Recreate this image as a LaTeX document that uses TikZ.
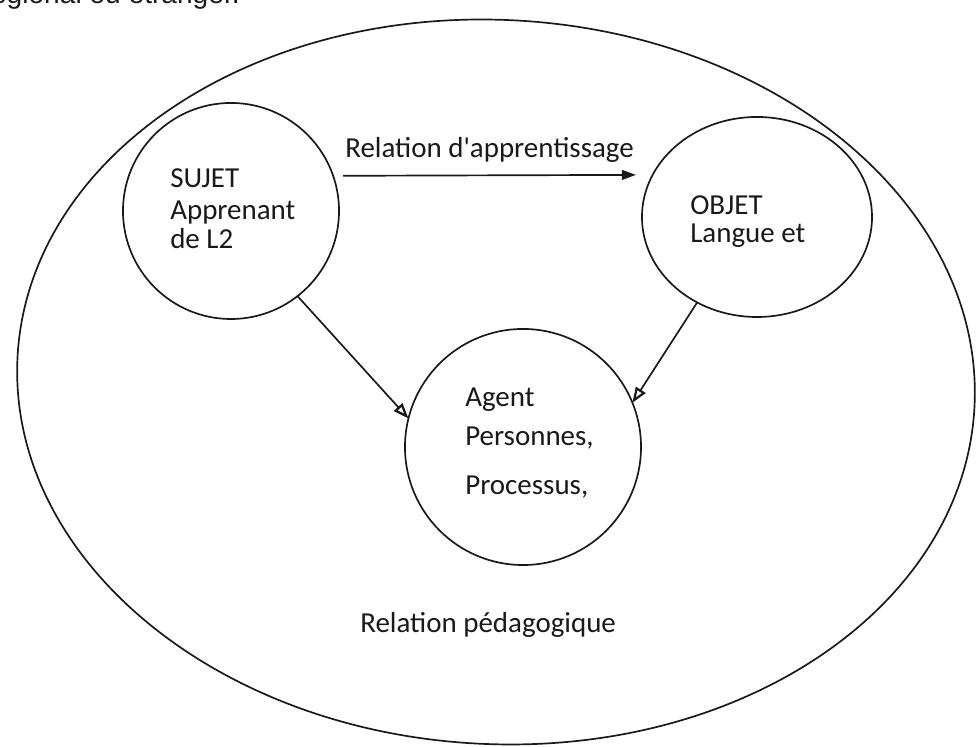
\documentclass[tikz,border=0pt]{standalone}
\usepackage{fontspec}
\setmainfont{Carlito}
\newfontfamily\cutfont{Liberation Sans}
\usetikzlibrary{shapes.geometric,arrows.meta}

\tikzstyle{bubble}=[shape=circle,draw=black!90,line width=1.2pt,inner sep=0pt,outer sep=0pt]
\tikzstyle{oval}=[shape=ellipse,draw=black!90,line width=1.2pt,inner sep=0pt,outer sep=0pt]
\tikzstyle{txt}=[anchor=base west,inner sep=0pt,font=\fontsize{20.6}{24}\selectfont,text=black!90]
\tikzstyle{mainedge}=[-{Triangle[length=10pt,width=7pt]},line width=1.2pt,draw=black!90]
\tikzstyle{sideedge}=[-{Triangle[open,length=11pt,width=8pt,line width=1.6pt]},line width=1.2pt,draw=black!90]

\begin{document}
\begin{tikzpicture}[x=0.025cm,y=0.025cm]
\useasboundingbox (0,0) rectangle (976,747);
% text cut off at the top of the page
\node[txt,anchor=base east,font=\cutfont\fontsize{20}{24}\selectfont] (cut) at (240,743) {régional ou étranger.};
% outer relation
\node[oval,rotate=-3,minimum width=23.95cm,minimum height=18.1cm] (pedago) at (496,365) {};
\node[txt] (pedagotxt) at (360,114) {Relation pédagogique};
% subject
\node[bubble,minimum size=5.4cm] (sujet) at (231,536) {};
\node[txt] (sujet1) at (170,559) {SUJET};
\node[txt] (sujet2) at (170,527) {Apprenant};
\node[txt] (sujet3) at (170,498) {de L2};
% object
\node[oval,minimum width=5.75cm,minimum height=5cm] (objet) at (757,530) {};
\node[txt] (objet1) at (690,532) {OBJET};
\node[txt] (objet2) at (690,504) {Langue et};
% agent
\node[bubble,minimum size=5.9cm] (agent) at (523,300) {};
\node[txt] (agent1) at (465,340) {Agent};
\node[txt] (agent2) at (465,301) {Personnes,};
\node[txt] (agent3) at (465,252) {Processus,};
% arrows
\node[txt] (apprtxt) at (345,589) {Relation d\textquotesingle apprentissage};
\draw[mainedge,shorten <=0.25cm,shorten >=0.42cm] (sujet.19) -- (objet.158);
\draw[sideedge] (sujet.-52) -- (agent.166);
\draw[sideedge] (objet.235) -- (agent.22);
\end{tikzpicture}
\end{document}
